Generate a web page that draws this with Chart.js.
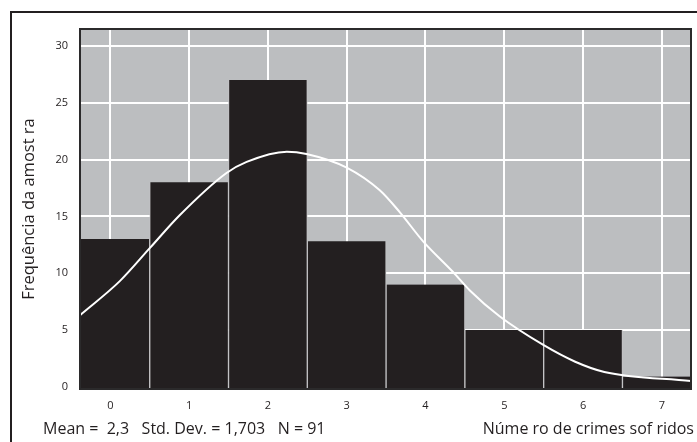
<!DOCTYPE html>
<html><head><meta charset="utf-8">
<script src="https://cdn.jsdelivr.net/npm/chart.js@4/dist/chart.umd.min.js"></script>
<style>
html,body{margin:0;padding:0;background:#fff;}
#wrap{position:relative;width:697px;height:442px;overflow:hidden;}
#frame{position:absolute;left:10px;top:11px;width:720px;height:460px;border:2px solid #231f20;box-sizing:border-box;}
canvas{position:absolute;left:0;top:0;}
.txt{position:absolute;font-family:"Open Sans";font-size:16px;color:#231f20;white-space:pre;line-height:1;}
</style></head>
<body>
<div id="wrap">
  <div id="frame"></div>
  <canvas id="c" width="697" height="442"></canvas>
  <div class="txt" id="stats" style="left:43px;top:420px;">Mean =  2,3   Std. Dev. = 1,703   N = 91</div>
  <div class="txt" id="xtitle" style="right:3px;top:420px;">Núme ro de crimes sof ridos</div>
</div>
<script>
const CATEGORIES = [0, 1, 2, 3, 4, 5, 6, 7];
const FREQUENCIES = [13, 18, 27, 12.8, 9, 5, 5, 0.9];
const CURVE_X = [-0.385, 0.12, 0.5, 0.88, 1.47, 1.73, 2.24, 2.49, 3.0, 3.42, 3.67, 3.97, 4.35, 4.56, 4.94, 5.49, 5.9, 6.27, 7.37];
const CURVE_Y = [6.3, 9.3, 12.2, 15.1, 18.8, 19.8, 20.7, 20.5, 19.3, 17.3, 15.4, 12.8, 10.1, 8.5, 6.2, 3.7, 2.2, 1.3, 0.5];
const Y_TICKS = [0, 5, 10, 15, 20, 25, 30];
const X_MIN = -0.385, X_MAX = 7.37, Y_MIN = -0.2, Y_MAX = 31.5;
const Y_TITLE = 'Frequência da amost ra';

const INK = '#231f20';
const plotDeco = {
  id: 'plotDeco',
  beforeDraw(chart) {
    const {ctx, chartArea: a} = chart;
    ctx.save();
    ctx.fillStyle = '#bcbec0';
    ctx.fillRect(a.left, a.top, a.right - a.left, a.bottom - a.top);
    ctx.restore();
  },
  afterDraw(chart) {
    const {ctx, chartArea: a} = chart;
    ctx.save();
    ctx.strokeStyle = '#2b2a2b';
    ctx.lineWidth = 2;
    ctx.strokeRect(a.left, a.top, a.right - a.left, a.bottom - a.top);
    ctx.restore();
  }
};

new Chart(document.getElementById('c'), {
  type: 'bar',
  data: {
    datasets: [
      {
        type: 'line',
        data: CURVE_X.map((x, i) => ({x, y: CURVE_Y[i]})),
        borderColor: '#ffffff',
        borderWidth: 2,
        pointRadius: 0,
        fill: false,
        cubicInterpolationMode: 'monotone',
        clip: 0,
        order: 0
      },
      {
        type: 'bar',
        data: CATEGORIES.map((c, i) => ({x: c, y: FREQUENCIES[i]})),
        backgroundColor: INK,
        borderColor: '#c4c4c6',
        borderWidth: {left: 1, right: 1, top: 0, bottom: 0},
        barPercentage: 1,
        categoryPercentage: 1,
        base: Y_MIN,
        clip: 0,
        order: 1
      }
    ]
  },
  options: {
    responsive: false,
    animation: false,
    devicePixelRatio: 1,
    layout: {padding: {top: 29, right: 6, bottom: 0, left: 0}},
    plugins: {legend: {display: false}, tooltip: {enabled: false}, title: {display: false}},
    scales: {
      x: {
        type: 'linear',
        min: X_MIN, max: X_MAX,
        offset: false,
        afterBuildTicks: s => { s.ticks = CATEGORIES.map(v => ({value: v})); },
        afterFit: s => { s.height = 53; },
        grid: {color: '#ffffff', lineWidth: 2, drawTicks: false, offset: false},
        border: {display: false},
        ticks: {color: INK, padding: 10, font: {family: 'Open Sans', size: 11}, maxRotation: 0}
      },
      y: {
        type: 'linear',
        min: Y_MIN, max: Y_MAX,
        afterBuildTicks: s => { s.ticks = Y_TICKS.map(v => ({value: v})); },
        afterFit: s => { s.width = 80; },
        grid: {color: '#ffffff', lineWidth: 2, drawTicks: false},
        border: {display: false},
        ticks: {color: INK, padding: 12, font: {family: 'Open Sans', size: 11}},
        title: {display: true, text: Y_TITLE, color: INK, font: {family: 'Open Sans', size: 16.5}, padding: {top: 19, bottom: 0}}
      }
    }
  },
  plugins: [plotDeco]
});
</script>
</body></html>
